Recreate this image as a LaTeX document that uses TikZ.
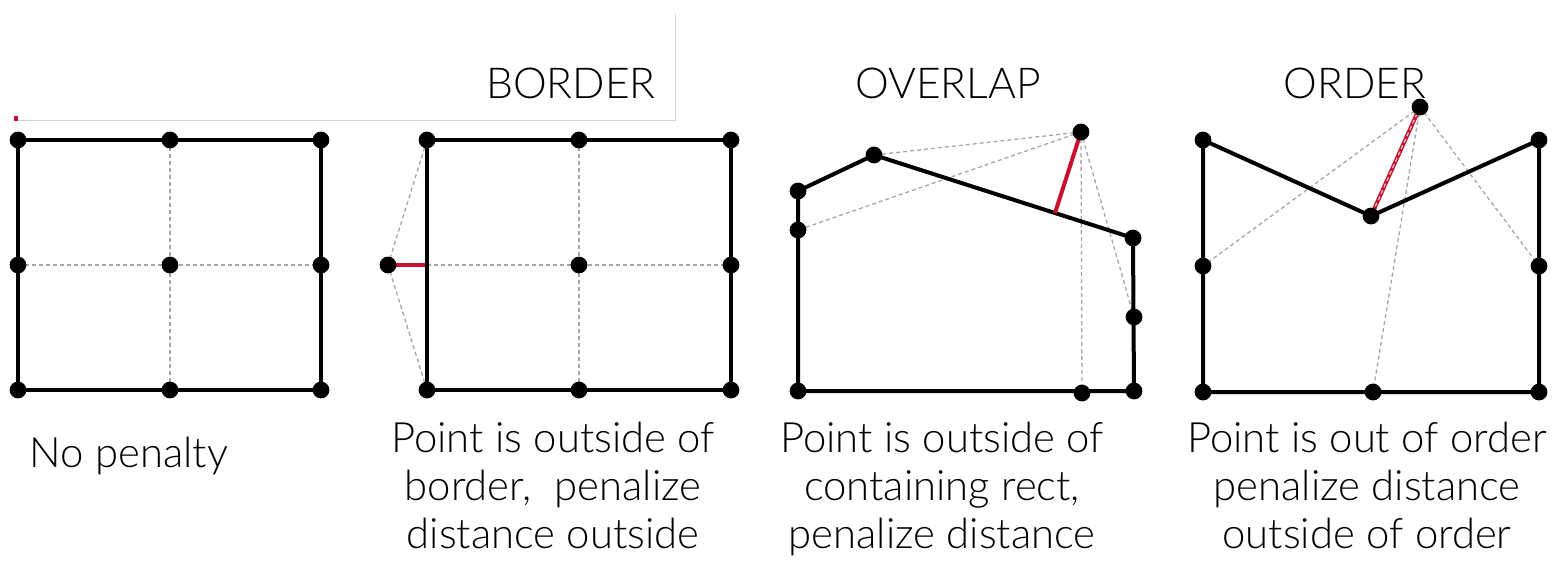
\documentclass[tikz,border=0pt]{standalone}
\usepackage{fontspec}
\IfFontExistsTF{Lato Light}{\setmainfont{Lato Light}}{\setmainfont{Lato}}
\usetikzlibrary{calc}
\begin{document}
\begin{tikzpicture}[x=0.5pt,y=-0.5pt,
  dot/.style={circle,fill=black,inner sep=0pt,minimum size=8.4pt},
  edge/.style={line width=2pt,line join=round},
  guide/.style={line width=0.65pt,gray!70,dash pattern=on 2pt off 1.5pt},
  pen/.style={line width=2pt,draw=penred},
  frame/.style={line width=0.5pt,black!18},
  lbl/.style={font=\fontsize{20.9pt}{25pt}\selectfont,anchor=base,inner sep=0pt},
  ttl/.style={font=\fontsize{21.3pt}{25pt}\selectfont,anchor=base,inner sep=0pt}]
\definecolor{penred}{RGB}{200,16,46}
\useasboundingbox (0,0) rectangle (1555,563);
% slide frame remnants
\coordinate (f1) at (15,120); \coordinate (f2) at (675,120); \coordinate (f3) at (675,14);
\draw[frame] (f1) -- (f2) -- (f3);
\fill[penred] (14,116) rectangle (18,121);

% ---------- panel 1 ----------
\foreach \n/\x/\y in {a1/18/140,a2/170/140,a3/321/140,a4/18/265,a5/170/265,a6/321/265,a7/18/390,a8/170/390,a9/321/390}
  \coordinate (\n) at (\x,\y);
\draw[guide] (a2) -- (a8);
\draw[guide] (a4) -- (a6);
\draw[edge] (a1) -- (a3) -- (a9) -- (a7) -- cycle;
\foreach \n in {a1,a2,a3,a4,a5,a6,a7,a8,a9} \node[dot] (d\n) at (\n) {};

% ---------- panel 2 ----------
\foreach \n/\x/\y in {b1/427/140,b2/579/140,b3/731/140,b4/427/265,b5/579/265,b6/731/265,b7/427/390,b8/579/390,b9/731/390,bp/388/265}
  \coordinate (\n) at (\x,\y);
\draw[guide] (b2) -- (b8);
\draw[guide] (b4) -- (b6);
\draw[guide] (bp) -- (b1);
\draw[guide] (bp) -- (b7);
\draw[pen] (bp) -- (b4);
\draw[edge] (b1) -- (b3) -- (b9) -- (b7) -- cycle;
\foreach \n in {b1,b2,b3,b5,b6,b7,b8,b9,bp} \node[dot] (d\n) at (\n) {};

% ---------- panel 3 ----------
\foreach \n/\x/\y in {c1/798/191,c2/874/155,c3/1133/238,c4/1134/317,c5/1134/391,c6/1082/393,c7/798/391,c8/798/230,cp/1081/132}
  \coordinate (\n) at (\x,\y);
\coordinate (cf) at ($(c2)!(cp)!(c3)$);
\draw[guide] (cp) -- (c2);
\draw[guide] (cp) -- (c8);
\draw[guide] (cp) -- (c6);
\draw[guide] (cp) -- (c4);
\draw[edge] (c1) -- (c2) -- (c3) -- (c5) -- (c7) -- cycle;
\draw[pen] (cp) -- (cf);
\foreach \n in {c1,c2,c3,c4,c5,c6,c7,c8,cp} \node[dot] (d\n) at (\n) {};

% ---------- panel 4 ----------
\foreach \n/\x/\y in {e1/1203/140,e2/1371/216,e3/1539/140,e4/1539/266,e5/1539/392,e6/1373/392,e7/1203/392,e8/1203/266,ep/1420/107}
  \coordinate (\n) at (\x,\y);
\draw[guide] (ep) -- (e8);
\draw[guide] (ep) -- (e4);
\draw[guide] (ep) -- (e6);
\draw[edge] (e1) -- (e2) -- (e3) -- (e5) -- (e7) -- cycle;
\draw[pen] (ep) -- (e2);
\draw[guide,gray!45] (ep) -- (e2);

% ---------- titles ----------
\node[ttl] (t2) at (571,98) {BORDER};
\node[ttl] (t3) at (948,98) {OVERLAP};
\node[ttl] (t4) at (1355,98) {ORDER};

\foreach \n in {e1,e2,e3,e4,e5,e6,e7,e8,ep} \node[dot] (d\n) at (\n) {};

% ---------- captions ----------
\node[lbl] (l1) at (129,467) {No penalty};
\node[lbl] (l2a) at (553,452) {Point is outside of};
\node[lbl] (l2b) at (553,500) {border,\ \ penalize};
\node[lbl] (l2c) at (553,548) {distance outside};
\node[lbl] (l3a) at (942,452) {Point is outside of};
\node[lbl] (l3b) at (942,500) {containing rect,};
\node[lbl] (l3c) at (942,548) {penalize distance};
\node[lbl] (l4a) at (1367,452) {Point is out of order};
\node[lbl] (l4b) at (1367,500) {penalize distance};
\node[lbl] (l4c) at (1367,548) {outside of order};
\end{tikzpicture}
\end{document}
